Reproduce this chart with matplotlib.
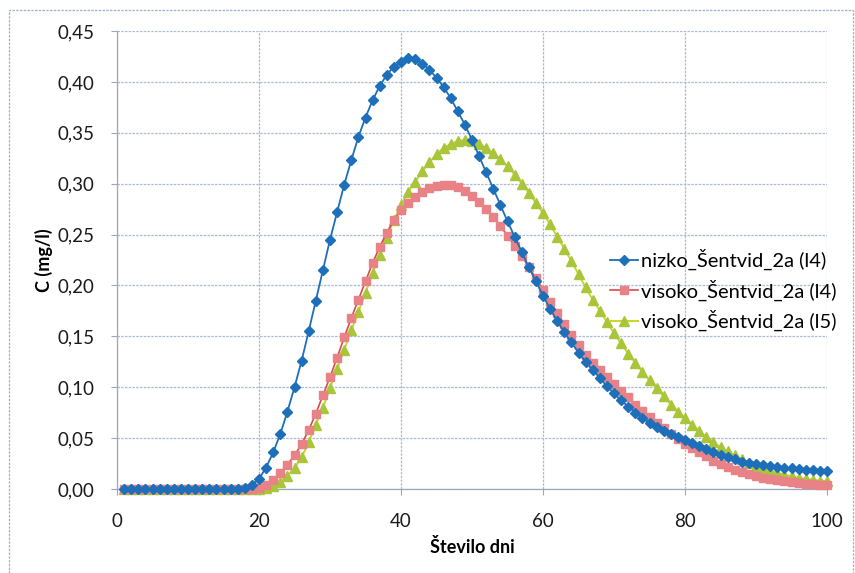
import matplotlib
matplotlib.use("Agg")
import matplotlib.pyplot as plt
from matplotlib.ticker import FuncFormatter, MultipleLocator
from matplotlib.lines import Line2D

plt.rcParams['font.family'] = ['Lato', 'DejaVu Sans']

# Days of simulation
days = list(range(1, 101))

# Concentration C (mg/l), nizko_Šentvid_2a (l4)
nizko_l4 = [
    0.000, 0.000, 0.000, 0.000, 0.000, 0.000, 0.000, 0.000, 0.000, 0.000,
    0.000, 0.000, 0.000, 0.000, 0.000, 0.000, 0.000, 0.001, 0.004, 0.010,
    0.021, 0.036, 0.054, 0.076, 0.100, 0.126, 0.155, 0.185, 0.215, 0.245,
    0.272, 0.299, 0.323, 0.346, 0.365, 0.382, 0.396, 0.407, 0.415, 0.420,
    0.423, 0.422, 0.418, 0.412, 0.404, 0.395, 0.384, 0.371, 0.358, 0.343,
    0.327, 0.311, 0.295, 0.279, 0.263, 0.248, 0.233, 0.218, 0.204, 0.190,
    0.177, 0.165, 0.154, 0.144, 0.134, 0.125, 0.117, 0.109, 0.101, 0.094,
    0.087, 0.081, 0.075, 0.070, 0.065, 0.061, 0.057, 0.054, 0.051, 0.048,
    0.045, 0.042, 0.039, 0.036, 0.033, 0.031, 0.029, 0.027, 0.026, 0.025,
    0.024, 0.023, 0.022, 0.021, 0.0205, 0.020, 0.019, 0.0185, 0.018, 0.0175,
]

# Concentration C (mg/l), visoko_Šentvid_2a (l4)
visoko_l4 = [
    0.000, 0.000, 0.000, 0.000, 0.000, 0.000, 0.000, 0.000, 0.000, 0.000,
    0.000, 0.000, 0.000, 0.000, 0.000, 0.000, 0.000, 0.000, 0.000, 0.0005,
    0.004, 0.009, 0.016, 0.024, 0.033, 0.044, 0.058, 0.074, 0.092, 0.110,
    0.129, 0.149, 0.168, 0.186, 0.204, 0.222, 0.238, 0.252, 0.264, 0.274,
    0.281, 0.287, 0.292, 0.296, 0.298, 0.299, 0.299, 0.297, 0.293, 0.288,
    0.282, 0.275, 0.267, 0.258, 0.249, 0.239, 0.229, 0.218, 0.207, 0.196,
    0.184, 0.173, 0.162, 0.151, 0.141, 0.132, 0.124, 0.117, 0.110, 0.103,
    0.096, 0.090, 0.083, 0.077, 0.071, 0.065, 0.060, 0.054, 0.049, 0.044,
    0.040, 0.036, 0.032, 0.028, 0.025, 0.022, 0.019, 0.017, 0.015, 0.013,
    0.011, 0.010, 0.009, 0.008, 0.007, 0.006, 0.005, 0.0045, 0.004, 0.0035,
]

# Concentration C (mg/l), visoko_Šentvid_2a (l5)
visoko_l5 = [
    0.000, 0.000, 0.000, 0.000, 0.000, 0.000, 0.000, 0.000, 0.000, 0.000,
    0.000, 0.000, 0.000, 0.000, 0.000, 0.000, 0.000, 0.000, 0.000, 0.000,
    0.001, 0.003, 0.007, 0.013, 0.021, 0.031, 0.046, 0.063, 0.080, 0.099,
    0.118, 0.137, 0.156, 0.174, 0.193, 0.212, 0.230, 0.247, 0.264, 0.279,
    0.292, 0.302, 0.312, 0.321, 0.329, 0.335, 0.339, 0.342, 0.343, 0.342,
    0.339, 0.335, 0.330, 0.324, 0.317, 0.309, 0.300, 0.291, 0.281, 0.271,
    0.260, 0.248, 0.236, 0.224, 0.211, 0.198, 0.186, 0.175, 0.164, 0.153,
    0.143, 0.133, 0.124, 0.115, 0.107, 0.099, 0.091, 0.083, 0.076, 0.070,
    0.063, 0.057, 0.051, 0.046, 0.041, 0.037, 0.033, 0.029, 0.026, 0.023,
    0.020, 0.018, 0.016, 0.014, 0.0125, 0.011, 0.010, 0.009, 0.008, 0.0075,
]

series_labels = [
    "nizko_Šentvid_2a (l4)",
    "visoko_Šentvid_2a (l4)",
    "visoko_Šentvid_2a (l5)",
]
x_ticks = [0, 20, 40, 60, 80, 100]
x_label = "Število dni"
y_label = "C (mg/l)"

W, H = 855, 573
fig = plt.figure(figsize=(W / 100, H / 100), dpi=100)
fig.patch.set_facecolor("white")

# plot area in pixel coordinates
left, right, top, bottom = 117, 827, 31, 489
ax = fig.add_axes([left / W, 1 - bottom / H, (right - left) / W, (bottom - top) / H])

grid_col = "#a9bcd4"
ax.set_xlim(0, 100)
ax.set_ylim(0, 0.45)
ax.yaxis.set_major_locator(MultipleLocator(0.05))
ax.set_xticks(x_ticks)
ax.grid(True, color=grid_col, linewidth=0.9, linestyle=(0, (2, 1)))
ax.set_axisbelow(True)
for side in ["top", "right"]:
    ax.spines[side].set_visible(False)
for side in ["left", "bottom"]:
    ax.spines[side].set_color("#9aa8bd")
    ax.spines[side].set_linewidth(0.9)
    ax.spines[side].set_linestyle((0, (2, 1)))

ax.yaxis.set_major_formatter(FuncFormatter(lambda v, p: f"{v:.2f}".replace(".", ",")))
ax.tick_params(axis="both", which="major", length=4, width=0.8, color="#9aa8bd",
               labelsize=13.5, labelcolor="#1a1a1a")
ax.tick_params(axis="y", pad=12)
ax.tick_params(axis="x", pad=13)

blue = "#1c6fb8"
red_face = "#e88286"
red_line = "#dd4a4a"
green_face = "#a9c53a"
green_line = "#c9d62a"

ax.plot(days, visoko_l5, color=green_line, linewidth=1.4, marker="^",
        markersize=7, markerfacecolor=green_face, markeredgecolor=green_face,
        zorder=3, clip_on=False)
ax.plot(days, visoko_l4, color=red_line, linewidth=1.2, marker="s",
        markersize=6, markerfacecolor=red_face, markeredgecolor=red_face,
        zorder=4, clip_on=False)
ax.plot(days, nizko_l4, color=blue, linewidth=1.3, marker="D",
        markersize=5.5, markerfacecolor=blue, markeredgecolor=blue,
        zorder=5, clip_on=False)

ax.set_xlabel(x_label, fontsize=13, fontweight="bold", labelpad=6)
ax.set_ylabel(y_label, fontsize=13, fontweight="bold", labelpad=3)

handles = [
    Line2D([], [], color=blue, linewidth=1.3, marker="D", markersize=5.5,
           markerfacecolor=blue, markeredgecolor=blue),
    Line2D([], [], color=red_line, linewidth=1.2, marker="s", markersize=6,
           markerfacecolor=red_face, markeredgecolor=red_face),
    Line2D([], [], color=green_line, linewidth=1.4, marker="^", markersize=7,
           markerfacecolor=green_face, markeredgecolor=green_face),
]
fig.legend(handles, series_labels, loc="upper left",
           bbox_to_anchor=(610 / W, 1 - 249 / H), frameon=False,
           fontsize=14.5, handlelength=1.4, handletextpad=0.12,
           labelspacing=0.45, borderpad=0, borderaxespad=0)

# chart area border
border = plt.Rectangle((9 / W, -0.01), (853 - 9) / W, 1 - 10 / H + 0.01,
                       transform=fig.transFigure, fill=False,
                       edgecolor="#9fb3cc", linewidth=0.9,
                       linestyle=(0, (2, 1)))
fig.patches.append(border)

fig.savefig("out.png", dpi=100, facecolor="white")
